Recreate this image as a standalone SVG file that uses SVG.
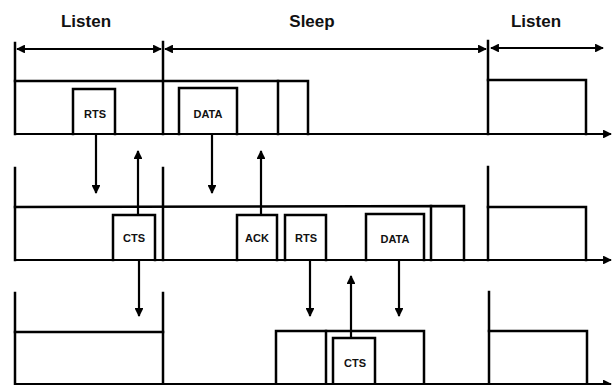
<svg xmlns="http://www.w3.org/2000/svg" width="614" height="385" viewBox="0 0 614 385">
<style>
.ln{fill:none;stroke:#000;stroke-width:2.5;stroke-linecap:square}
.bx{fill:#fff;stroke:#000;stroke-width:2.5}
.hd{font-family:"Liberation Sans",Arial,sans-serif;font-weight:bold;font-size:17px;fill:#111}
.lb{font-family:"Liberation Sans",Arial,sans-serif;font-weight:bold;font-size:11px;fill:#111}
.ar{fill:none;stroke:#000;stroke-width:2.2}
</style>
<defs>
<marker id="ah" viewBox="0 0 10 10" refX="9" refY="5" markerWidth="4" markerHeight="4" orient="auto-start-reverse" markerUnits="strokeWidth">
<path d="M0,0 L10,5 L0,10 Z" fill="#000"/>
</marker>
</defs>
<rect width="614" height="385" fill="#fff"/>
<g id="labels">
<text class="hd" x="86" y="27" text-anchor="middle">Listen</text>
<text class="hd" x="312" y="27" text-anchor="middle">Sleep</text>
<text class="hd" x="536" y="27" text-anchor="middle">Listen</text>
</g>
<g id="timeline">
<line class="ar" x1="17" y1="49" x2="161" y2="49" marker-start="url(#ah)" marker-end="url(#ah)"/>
<line class="ar" x1="165" y1="49" x2="486" y2="49" marker-start="url(#ah)" marker-end="url(#ah)"/>
<line class="ar" x1="491" y1="48" x2="603" y2="48" marker-start="url(#ah)" marker-end="url(#ah)"/>
</g>
<g id="row1">
<line class="ln" x1="15" y1="43" x2="15" y2="134"/>
<line class="ln" x1="163" y1="42" x2="163" y2="134"/>
<line class="ln" x1="488" y1="41" x2="488" y2="134"/>
<polyline class="ln" points="15,81 308,81 308,134"/>
<line class="ln" x1="278" y1="81" x2="278" y2="134"/>
<polyline class="ln" points="488,80 586,80 586,134"/>
<line class="ar" x1="15" y1="134" x2="611" y2="134" marker-end="url(#ah)"/>
</g>
<g id="rts1"><polyline class="ln" points="73,134 73,89 115,89 115,134"/><text class="lb" x="95" y="118" text-anchor="middle">RTS</text></g>
<g id="data1"><polyline class="ln" points="179,134 179,88 237,88 237,134"/><text class="lb" x="208" y="118" text-anchor="middle">DATA</text></g>
<g id="row2">
<line class="ln" x1="15" y1="168" x2="15" y2="260"/>
<line class="ln" x1="163" y1="168" x2="163" y2="260"/>
<line class="ln" x1="488" y1="167" x2="488" y2="260"/>
<polyline class="ln" points="15,207 464,206 464,260"/>
<line class="ln" x1="431" y1="206" x2="431" y2="260"/>
<polyline class="ln" points="488,207 586,207 586,260"/>
<line class="ar" x1="15" y1="260" x2="611" y2="260" marker-end="url(#ah)"/>
</g>
<g id="cts2"><polyline class="ln" points="113,260 113,215 155,215 155,260"/><text class="lb" x="134" y="242" text-anchor="middle">CTS</text></g>
<g id="ack2"><polyline class="ln" points="237,260 237,215 277,215 277,260"/><text class="lb" x="257" y="242" text-anchor="middle">ACK</text></g>
<g id="rts2"><polyline class="ln" points="285,260 285,215 326,215 326,260"/><text class="lb" x="306" y="242" text-anchor="middle">RTS</text></g>
<g id="data2"><polyline class="ln" points="366,260 366,214 424,214 424,260"/><text class="lb" x="395" y="243" text-anchor="middle">DATA</text></g>
<g id="row3">
<line class="ln" x1="15" y1="293" x2="15" y2="386"/>
<line class="ln" x1="163" y1="293" x2="163" y2="386"/>
<line class="ln" x1="489" y1="292" x2="489" y2="386"/>
<line class="ln" x1="15" y1="332" x2="163" y2="332"/>
<polyline class="ln" points="276,386 276,331 424,331 424,386"/>
<line class="ln" x1="326" y1="331" x2="326" y2="386"/>
<polyline class="ln" points="489,331 587,331 587,386"/>
<line class="ar" x1="15" y1="384" x2="611" y2="384" marker-end="url(#ah)"/>
</g>
<g id="cts3"><polyline class="ln" points="333,386 333,338 375,338 375,386"/><text class="lb" x="355" y="367" text-anchor="middle">CTS</text></g>
<g id="connectors">
<line class="ar" x1="96" y1="135" x2="96" y2="193" marker-end="url(#ah)"/>
<line class="ar" x1="138" y1="215" x2="138" y2="151" marker-end="url(#ah)"/>
<line class="ar" x1="212" y1="135" x2="212" y2="193" marker-end="url(#ah)"/>
<line class="ar" x1="261" y1="215" x2="261" y2="151" marker-end="url(#ah)"/>
<line class="ar" x1="139" y1="261" x2="139" y2="316" marker-end="url(#ah)"/>
<line class="ar" x1="310" y1="261" x2="310" y2="316" marker-end="url(#ah)"/>
<line class="ar" x1="351" y1="338" x2="351" y2="276" marker-end="url(#ah)"/>
<line class="ar" x1="399" y1="261" x2="399" y2="316" marker-end="url(#ah)"/>
</g>
</svg>
